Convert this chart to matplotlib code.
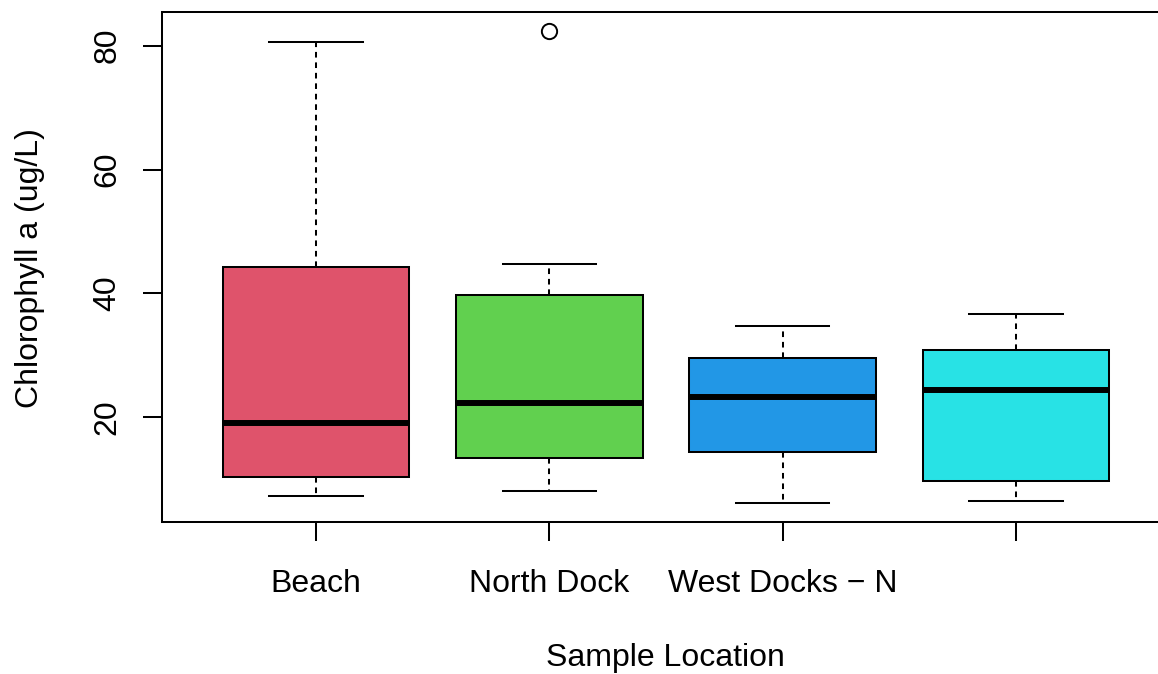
import matplotlib
matplotlib.use("Agg")
import matplotlib.pyplot as plt

# chlorophyll a summary per sample location (ug/L)
locations = ["Beach", "North Dock", "West Docks \u2212 N", ""]
whisker_lo = [7.3, 8.1, 6.1, 6.5]
box_lo = [10.3, 13.4, 14.4, 9.7]
medians = [19.0, 22.3, 23.2, 24.4]
box_hi = [44.2, 39.7, 29.5, 30.8]
whisker_hi = [80.6, 44.7, 34.7, 36.6]
outliers = [[], [82.4], [], []]
colors = ["#DF536B", "#61D04F", "#2297E6", "#28E2E5"]

plt.rcParams['font.family'] = ['Liberation Sans', 'DejaVu Sans']

W, H = 1158, 674
fig = plt.figure(figsize=(W / 100, H / 100), dpi=100)
# plot region runs off the right edge, as in the saved image
ax = fig.add_axes([162 / W, (H - 522) / H, (1170 - 162) / W, 510 / H])

stats = []
for i in range(len(locations)):
    stats.append({
        "whislo": whisker_lo[i], "q1": box_lo[i], "med": medians[i],
        "q3": box_hi[i], "whishi": whisker_hi[i], "fliers": outliers[i],
    })

lw = 1.45
bp = ax.bxp(stats, positions=[1, 2, 3, 4], widths=0.8, patch_artist=True,
            showfliers=True,
            boxprops=dict(linewidth=lw, edgecolor="black"),
            medianprops=dict(linewidth=4.3, color="black", solid_capstyle="butt"),
            whiskerprops=dict(linewidth=lw, color="black", linestyle=(0, (2.8, 2.4))),
            capprops=dict(linewidth=lw, color="black"),
            capwidths=0.4,
            flierprops=dict(marker="o", markerfacecolor="none", markeredgecolor="black",
                            markersize=11, markeredgewidth=1.4))
for patch, c in zip(bp["boxes"], colors):
    patch.set_facecolor(c)

lo = min(whisker_lo)
hi = max(max(whisker_hi), max(max(o) for o in outliers if o))
ext = (hi - lo) * 0.04
ax.set_ylim(lo - ext, hi + ext)
ax.set_xlim(0.34, 4.66)

ax.set_yticks([20, 40, 60, 80])
ax.set_yticklabels(["20", "40", "60", "80"], rotation=90, va="center")
ax.set_xticks([1, 2, 3, 4])
ax.set_xticklabels(locations)

ax.tick_params(axis="both", length=13.5, width=lw, labelsize=23, color="black")
ax.tick_params(axis="y", pad=15)
ax.tick_params(axis="x", pad=20)

for side in ["left", "right", "top", "bottom"]:
    ax.spines[side].set_linewidth(lw)

fig.text(30 / W, 1 - 268 / H, "Chlorophyll a (ug/L)", rotation=90, fontsize=23,
         ha="center", va="center")
fig.text(665 / W, 1 - 658 / H, "Sample Location", fontsize=23,
         ha="center", va="center")

fig.savefig("out.png", dpi=100)
